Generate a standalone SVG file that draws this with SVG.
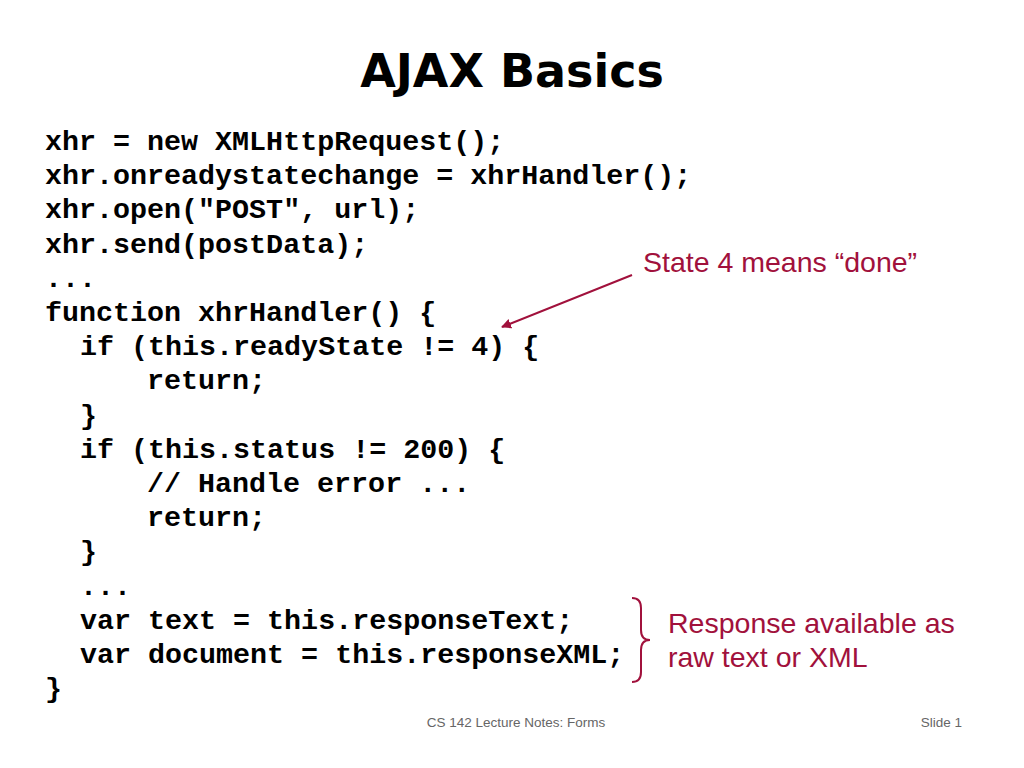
<svg xmlns="http://www.w3.org/2000/svg" width="1024" height="768" viewBox="0 0 1024 768">
<defs>
<style>
.code{font-family:"Liberation Mono","Courier New",monospace;font-weight:bold;font-size:28.35px;fill:#000;white-space:pre}
.note{font-family:"Liberation Sans",Arial,sans-serif;font-size:28.5px;fill:#A1113C}
.foot{font-family:"Liberation Sans",Arial,sans-serif;font-size:13.5px;fill:#666}
</style>
<marker id="ah" viewBox="0 0 10 10" refX="9" refY="5" markerWidth="5" markerHeight="5" orient="auto" markerUnits="strokeWidth">
<path d="M0,0 L10,5 L0,10 z" fill="#A1113C"/>
</marker>
</defs>
<rect width="1024" height="768" fill="#fff"/>
<g id="title">
<text x="512" y="87" text-anchor="middle" font-family="DejaVu Sans,Verdana,sans-serif" font-weight="bold" font-size="46" fill="#000">AJAX Basics</text>
</g>
<g id="code" class="code" xml:space="preserve">
<text x="45" y="150">xhr = new XMLHttpRequest();</text>
<text x="45" y="184">xhr.onreadystatechange = xhrHandler();</text>
<text x="45" y="218">xhr.open("POST", url);</text>
<text x="45" y="253">xhr.send(postData);</text>
<text x="45" y="287">...</text>
<text x="45" y="321">function xhrHandler() {</text>
<text x="80" y="355">if (this.readyState != 4) {</text>
<text x="147" y="389">return;</text>
<text x="80" y="424">}</text>
<text x="80" y="458">if (this.status != 200) {</text>
<text x="147" y="492">// Handle error ...</text>
<text x="147" y="526">return;</text>
<text x="80" y="560">}</text>
<text x="80" y="595">...</text>
<text x="80" y="629">var text = this.responseText;</text>
<text x="80" y="663">var document = this.responseXML;</text>
<text x="45" y="697">}</text>
</g>
<g id="note-state">
<text class="note" x="643" y="272">State 4 means “done”</text>
</g>
<g id="note-response">
<text class="note" x="668" y="633">Response available as</text>
<text class="note" x="668" y="667">raw text or XML</text>
</g>
<g id="connectors" fill="none" stroke="#A1113C" stroke-width="2">
<line x1="632" y1="275" x2="502" y2="327" marker-end="url(#ah)"/>
<path d="M632,598 Q641,598 641,608 L641,630 Q641,640 650,640 Q641,640 641,650 L641,672 Q641,682 632,682"/>
</g>
<g id="footer">
<text class="foot" x="516" y="727" text-anchor="middle">CS 142 Lecture Notes: Forms</text>
<text class="foot" x="962" y="727" text-anchor="end">Slide 1</text>
</g>
</svg>
